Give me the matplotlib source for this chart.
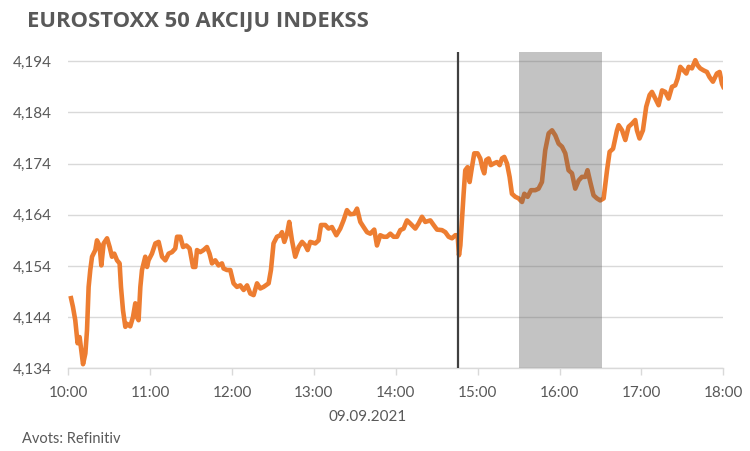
import matplotlib
matplotlib.use("Agg")
import matplotlib.pyplot as plt
from matplotlib.ticker import FuncFormatter

# minutes after 10:00
times = [2.0, 3.4, 5.1, 6.8, 8.3, 9.5, 10.8, 12.5, 13.7, 14.9, 16.1, 17.4, 18.5, 19.8, 21.0, 22.9,
         24.2, 25.9, 28.4, 30.3, 32.0, 33.7, 35.7, 37.6, 38.6, 40.1, 41.8, 43.0, 45.4, 47.4, 49.1,
         50.3, 51.5, 52.8, 54.0, 56.4, 57.7, 58.8, 61.3, 63.8, 66.2, 68.7, 71.1, 73.5, 76.0, 78.4,
         79.7, 82.1, 84.1, 86.5, 88.9, 91.4, 93.1, 94.3, 96.7, 99.1, 101.6, 103.5, 105.3, 107.7,
         110.1, 112.6, 113.8, 116.3, 118.7,
         121.1, 123.6, 126.0, 128.5, 131.0, 133.4, 135.8, 138.3, 140.7, 143.1, 146.8, 148.5, 150.4,
         152.9, 155.4, 156.6, 158.3, 160.3, 161.9, 163.9, 166.3, 168.8, 171.3, 173.7, 175.4, 177.3,
         181.0, 183.4, 185.2, 188.3, 190.7, 193.2, 196.4, 199.3, 201.7, 204.2, 206.6, 209.6, 211.6,
         214.0, 216.4, 218.9, 221.3, 224.2, 226.2, 228.6, 231.1, 233.5, 236.0, 238.4, 240.9, 243.3,
         245.7, 248.2, 250.6, 254.3, 256.7, 259.2, 261.6, 265.3, 267.7, 270.2, 273.8, 276.3, 278.7,
         281.2, 283.6, 285.3, 286.3, 287.3, 289.7, 290.9,
         292.6, 294.1, 295.8, 297.5, 299.9, 301.9, 303.6, 304.8, 306.3, 308.0, 309.7, 311.7, 314.1,
         316.1, 317.8, 319.5, 321.5, 323.4, 325.1, 327.6, 330.0, 332.5, 334.2, 336.6, 339.1, 342.2,
         344.6, 347.1, 349.5, 352.0, 354.5, 356.9, 359.3, 361.8, 364.2, 366.6, 369.1, 371.5, 374.0,
         376.4, 378.9, 380.5, 382.5, 384.9, 387.4, 389.8, 392.3, 394.8, 396.7, 399.2, 402.1, 403.3,
         405.8, 408.2, 410.6, 413.1, 415.5, 416.7, 418.6, 421.1, 423.5, 426.0, 427.7, 430.2, 432.6,
         435.1, 437.5, 439.9, 442.4, 444.8, 446.5, 448.5, 450.9, 452.9, 454.6, 457.0, 459.5, 461.2,
         463.1, 465.6, 468.0, 469.9, 472.4, 475.3, 477.3, 479.0, 480.0]

values = [4147.7, 4146.0, 4143.4, 4138.9, 4140.1, 4137.5, 4134.8, 4136.9, 4141.4, 4149.9, 4153.2,
          4155.8, 4156.4, 4157.1, 4159.0, 4158.0, 4154.1, 4158.4, 4159.4, 4157.7, 4155.8, 4156.4,
          4155.1, 4154.5, 4149.9, 4145.3, 4142.1, 4142.7, 4142.2, 4144.0, 4146.7, 4144.0, 4143.4,
          4149.9, 4153.2, 4155.8, 4153.8, 4155.1, 4156.4, 4158.4, 4158.7, 4155.8, 4155.1, 4156.4,
          4156.7, 4157.4, 4159.7, 4159.7, 4157.7, 4158.0, 4157.4, 4153.8, 4153.8, 4157.1, 4156.7,
          4157.1, 4157.7, 4156.4, 4154.5, 4155.1, 4154.1, 4154.5, 4153.5, 4153.2, 4153.2,
          4150.6, 4149.9, 4150.2, 4149.3, 4150.2, 4148.6, 4148.3, 4150.6, 4149.6, 4149.9, 4150.6,
          4153.2, 4158.4, 4159.7, 4160.0, 4160.6, 4158.7, 4160.3, 4162.6, 4159.0, 4155.8, 4157.7,
          4158.7, 4158.0, 4157.1, 4158.7, 4158.4, 4159.0, 4162.0, 4162.0, 4161.3, 4161.6, 4160.0,
          4161.3, 4162.9, 4164.9, 4164.1, 4164.2, 4165.2, 4162.6, 4161.6, 4160.6, 4160.3, 4161.1,
          4158.0, 4160.0, 4159.7, 4159.7, 4160.3, 4159.7, 4159.7, 4161.0, 4161.3, 4162.9, 4162.3,
          4161.3, 4162.3, 4163.6, 4162.6, 4162.9, 4162.0, 4161.1, 4161.0, 4160.6, 4159.7, 4159.4,
          4160.0, 4160.0, 4156.1, 4158.0, 4168.1, 4172.7,
          4173.3, 4170.4, 4173.3, 4176.0, 4176.0, 4175.0, 4173.0, 4172.1, 4174.7, 4175.0, 4173.7,
          4174.0, 4174.3, 4173.7, 4175.0, 4175.3, 4174.0, 4171.4, 4168.1, 4167.5, 4167.2, 4166.5,
          4168.1, 4167.5, 4168.8, 4168.8, 4169.1, 4170.4, 4176.6, 4179.9, 4180.5, 4179.5, 4177.9,
          4177.3, 4176.0, 4172.7, 4172.1, 4169.1, 4170.7, 4171.4, 4171.4, 4172.7, 4170.4, 4167.8,
          4167.2, 4166.8, 4167.2, 4172.7, 4176.3, 4176.9, 4180.5, 4181.5, 4180.5, 4178.6, 4181.2,
          4181.8, 4182.5, 4180.5, 4178.9, 4180.5, 4185.1, 4187.4, 4188.0, 4186.7, 4185.4, 4188.3,
          4188.0, 4186.7, 4189.0, 4189.3, 4190.6, 4192.9, 4192.2, 4191.6, 4192.9, 4192.6, 4194.2,
          4193.2, 4192.6, 4192.2, 4191.9, 4190.9, 4190.0, 4191.6, 4191.9, 4189.6, 4189.0]

x_tick_pos = [0, 60, 120, 180, 240, 300, 360, 420, 480]
x_tick_labels = ["10:00", "11:00", "12:00", "13:00", "14:00", "15:00", "16:00", "17:00", "18:00"]
y_ticks = [4134, 4144, 4154, 4164, 4174, 4184, 4194]
event_time = 285.8
shade_start, shade_end = 330.5, 391.0

title = "EUROSTOXX 50 AKCIJU INDEKSS"
date_label = "09.09.2021"
source = "Avots: Refinitiv"

TXT = "#595959"
plt.rcParams["font.family"] = ["Lato", "DejaVu Sans"]

fig = plt.figure(figsize=(7.5, 4.51), dpi=100)
ax = fig.add_axes([68.3 / 750, 82.7 / 451, 655 / 750, 316.3 / 451])

ax.plot(times, values, color="#ED7D31", lw=3.3, solid_joinstyle="round", zorder=3)
ax.axvspan(shade_start, shade_end, color="#5a5a5a", alpha=0.36, lw=0, zorder=4)
ax.axvline(event_time, color="#404040", lw=1.6, zorder=5)

ax.set_xlim(0, 480)
ax.set_ylim(4134, 4195.8)
ax.set_xticks(x_tick_pos)
ax.set_xticklabels(x_tick_labels)
ax.set_yticks(y_ticks)
ax.yaxis.set_major_formatter(FuncFormatter(lambda v, p: f"{int(round(v)):,}"))

ax.grid(axis="y", color="#d9d9d9", lw=1.0, zorder=0)
for s in ["top", "right", "left"]:
    ax.spines[s].set_visible(False)
ax.spines["bottom"].set_color("#d9d9d9")
ax.spines["bottom"].set_linewidth(1.0)
ax.tick_params(axis="x", direction="out", length=5, width=1.0, color="#d9d9d9",
               labelsize=11, labelcolor=TXT, pad=8)
ax.tick_params(axis="y", length=0, labelsize=11, labelcolor=TXT, pad=12)

fig.text(27 / 750, 1 - 21.5 / 451, title, fontsize=15.8, fontweight="bold",
         family=["Open Sans", "DejaVu Sans"], color=TXT, ha="left", va="center")
fig.text(368 / 750, 1 - 416.7 / 451, date_label, fontsize=11, color=TXT, ha="center", va="center")
fig.text(22 / 750, 1 - 439 / 451, source, fontsize=10.5, color=TXT, ha="left", va="center")

fig.savefig("out.png", dpi=100)
